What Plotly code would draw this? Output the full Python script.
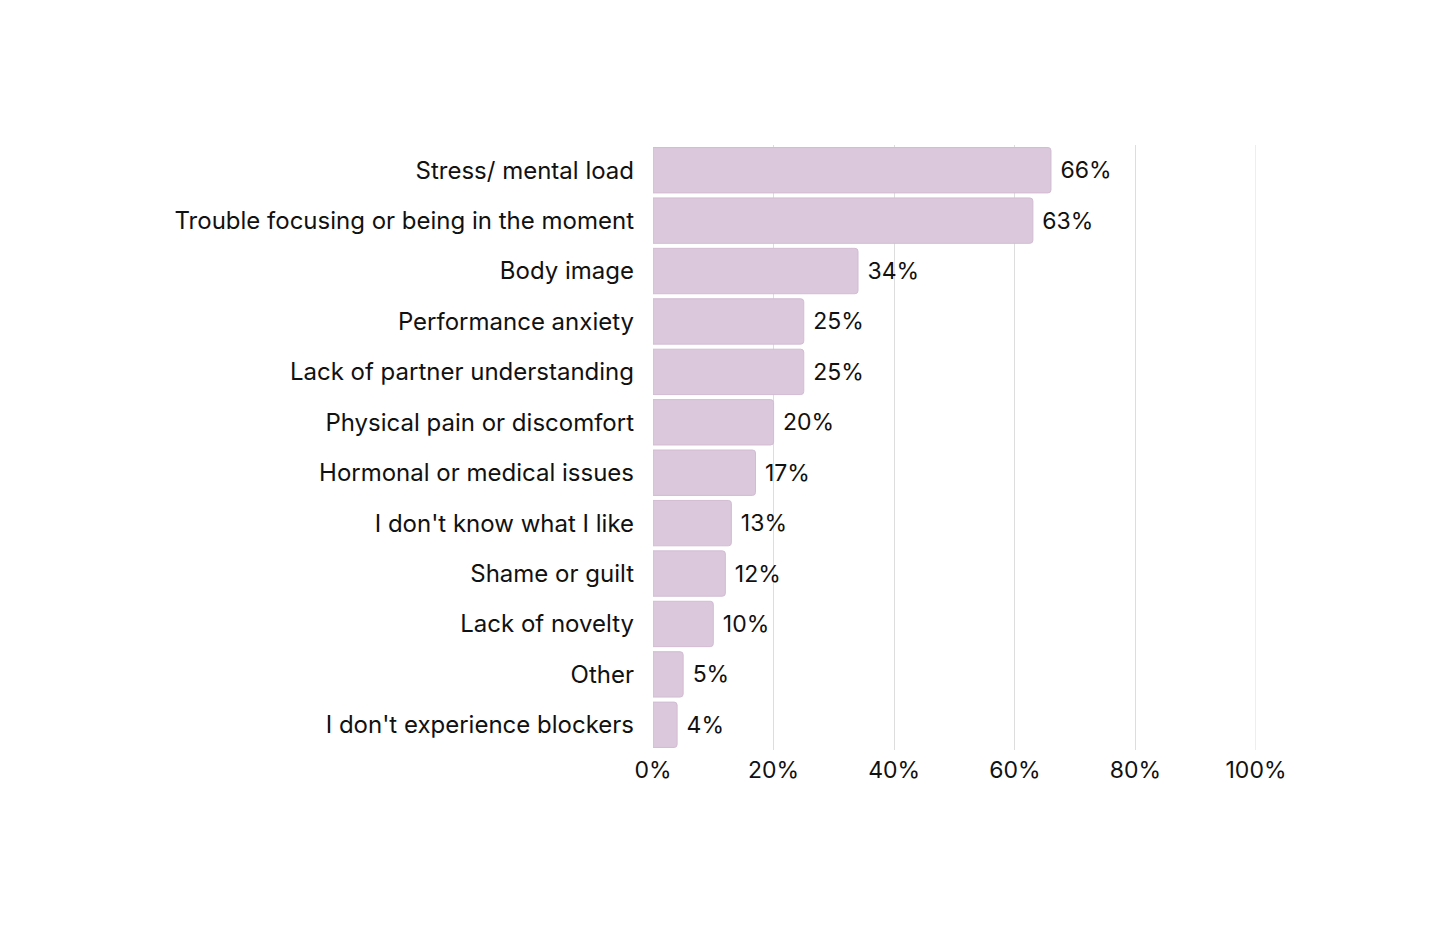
import plotly.graph_objects as go

categories = [
    "Stress/ mental load",
    "Trouble focusing or being in the moment",
    "Body image",
    "Performance anxiety",
    "Lack of partner understanding",
    "Physical pain or discomfort",
    "Hormonal or medical issues",
    "I don't know what I like",
    "Shame or guilt",
    "Lack of novelty",
    "Other",
    "I don't experience blockers",
]
values = [66, 63, 34, 25, 25, 20, 17, 13, 12, 10, 5, 4]
tick_vals = [0, 20, 40, 60, 80, 100]
tick_text = ["0%", "20%", "40%", "60%", "80%", "100%"]

FONT = "Inter, Roboto, sans-serif"
GRID = "#dddddd"

fig = go.Figure(go.Bar(
    x=values,
    y=categories,
    orientation="h",
    marker=dict(color="#dbc8dc", line=dict(color="#d2bcd3", width=1)),
    text=[f" {v}%" for v in values],
    textposition="outside",
    textfont=dict(size=23, color="#111111", family=FONT),
    cliponaxis=False,
))

# gridline at the right edge (100%) which plotly skips at the axis boundary
fig.add_shape(type="line", xref="x", yref="paper",
              x0=tick_vals[-1], x1=tick_vals[-1], y0=0, y1=1,
              line=dict(color=GRID, width=1), layer="below")

fig.update_layout(
    width=1456, height=925,
    paper_bgcolor="white", plot_bgcolor="white",
    margin=dict(l=645, r=208, t=137, b=183),
    bargap=0.1,
    barcornerradius=3,
    showlegend=False,
    font=dict(family=FONT, size=22, color="#111111"),
    xaxis=dict(
        range=[0, 100], tickvals=tick_vals, ticktext=tick_text,
        showgrid=True, gridcolor=GRID, gridwidth=1,
        zeroline=False, showline=False, ticks="",
        tickfont=dict(size=23, family=FONT, color="#111111"),
        ticklabelstandoff=4,
    ),
    yaxis=dict(
        autorange="reversed", showgrid=False, zeroline=False, showline=False,
        ticks="", ticklabelstandoff=18,
        tickfont=dict(size=24, family=FONT, color="#111111"),
    ),
)

fig.write_html("out.html")
